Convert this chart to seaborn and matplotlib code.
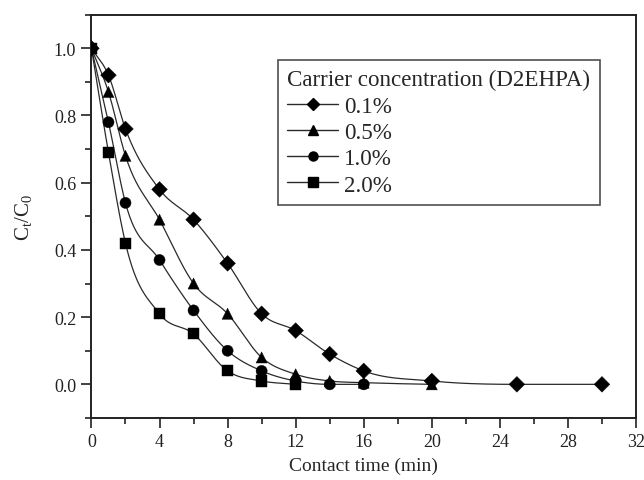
import numpy as np
import pandas as pd
import matplotlib
matplotlib.use("Agg")
import matplotlib.pyplot as plt
import seaborn as sns
from matplotlib.lines import Line2D
from matplotlib.ticker import MultipleLocator

# carrier concentration series
series_labels = ["0.1%", "0.5%", "1.0%", "2.0%"]
series_markers = ["D", "^", "o", "s"]

time_01 = [0, 1, 2, 4, 6, 8, 10, 12, 14, 16, 20, 25, 30]
ratio_01 = [1.0, 0.92, 0.76, 0.58, 0.49, 0.36, 0.21, 0.16, 0.09, 0.04, 0.01, 0.0, 0.0]

time_05 = [0, 1, 2, 4, 6, 8, 10, 12, 14, 16, 20]
ratio_05 = [1.0, 0.87, 0.68, 0.49, 0.30, 0.21, 0.08, 0.03, 0.01, 0.005, 0.0]

time_10 = [0, 1, 2, 4, 6, 8, 10, 12, 14, 16]
ratio_10 = [1.0, 0.78, 0.54, 0.37, 0.22, 0.10, 0.04, 0.01, 0.0, 0.0]

time_20 = [0, 1, 2, 4, 6, 8, 10, 12]
ratio_20 = [1.0, 0.69, 0.42, 0.21, 0.15, 0.04, 0.01, 0.0]

x_ticks = [0, 4, 8, 12, 16, 20, 24, 28, 32]
y_ticks = [0.0, 0.2, 0.4, 0.6, 0.8, 1.0]


def smooth_curve(x, y, n=400):
    """Monotone Hermite curve through the points, only used for the drawn line."""
    x = np.asarray(x, float)
    y = np.asarray(y, float)
    h = np.diff(x)
    d = np.diff(y) / h
    m = np.zeros_like(y)
    m[0], m[-1] = d[0], d[-1]
    for k in range(1, len(x) - 1):
        if d[k - 1] * d[k] <= 0:
            m[k] = 0.0
        else:
            # three-point slope, limited so the curve does not overshoot
            s = (h[k] * d[k - 1] + h[k - 1] * d[k]) / (h[k - 1] + h[k])
            lim = 3 * min(abs(d[k - 1]), abs(d[k]))
            m[k] = np.sign(s) * min(abs(s), lim)
    xs = np.linspace(x[0], x[-1], n)
    idx = np.clip(np.searchsorted(x, xs) - 1, 0, len(x) - 2)
    t = (xs - x[idx]) / h[idx]
    h00 = 2 * t**3 - 3 * t**2 + 1
    h10 = t**3 - 2 * t**2 + t
    h01 = -2 * t**3 + 3 * t**2
    h11 = t**3 - t**2
    ys = h00 * y[idx] + h10 * h[idx] * m[idx] + h01 * y[idx + 1] + h11 * h[idx] * m[idx + 1]
    return xs, ys


all_series = [(time_01, ratio_01), (time_05, ratio_05), (time_10, ratio_10), (time_20, ratio_20)]

points = pd.concat(
    [pd.DataFrame({"time": t, "ratio": r, "conc": lab}) for (t, r), lab in zip(all_series, series_labels)],
    ignore_index=True,
)
curves = []
for (t, r), lab in zip(all_series, series_labels):
    xs, ys = smooth_curve(t, r)
    curves.append(pd.DataFrame({"time": xs, "ratio": ys, "conc": lab}))
curves = pd.concat(curves, ignore_index=True)

sns.set_theme(style="ticks")
plt.rcParams["font.family"] = ["Liberation Serif", "DejaVu Serif"]
plt.rcParams["mathtext.fontset"] = "custom"
plt.rcParams["mathtext.rm"] = "Liberation Serif"
plt.rcParams["mathtext.it"] = "Liberation Serif"

fig = plt.figure(figsize=(6.44, 4.81), dpi=100)
ax = fig.add_axes([0.142, 0.129, 0.8456, 0.8384])

line_color = "#2a2a2a"
sns.lineplot(data=curves, x="time", y="ratio", units="conc", estimator=None,
             color=line_color, linewidth=0.9, ax=ax, legend=False, sort=False)
sns.scatterplot(data=points, x="time", y="ratio", style="conc", markers=dict(zip(series_labels, series_markers)),
                style_order=series_labels, color="black", s=64, edgecolor="black", linewidth=0.3,
                ax=ax, legend=False, zorder=3)

ax.set_xlim(0, 32)
ax.set_ylim(-0.1, 1.1)
ax.set_xticks(x_ticks)
ax.set_yticks(y_ticks)
ax.set_yticklabels([f"{v:.1f}" for v in y_ticks])
ax.xaxis.set_minor_locator(MultipleLocator(2))
ax.yaxis.set_minor_locator(MultipleLocator(0.1))
ax.tick_params(which="major", direction="out", length=7, width=1.2, labelsize=13, colors="#222222", pad=4)
ax.tick_params(which="minor", direction="out", length=4, width=1.2, colors="#222222")
for side in ax.spines.values():
    side.set_linewidth(1.4)
    side.set_color("#222222")
    side.set_visible(True)

ax.set_xlabel("Contact time (min)", fontsize=14, labelpad=5)
ax.set_ylabel(r"$\mathregular{C_t/C_0}$", fontsize=15, labelpad=14)

handles = [Line2D([], [], color=line_color, linewidth=1.0, marker=mk, markersize=6.5,
                  markerfacecolor="black", markeredgecolor="black")
           for mk in series_markers]
leg = ax.legend(handles, series_labels, title="Carrier concentration (D2EHPA)",
                loc="upper left", bbox_to_anchor=(0.343, 0.888), fontsize=16.6, title_fontsize=16.6,
                frameon=True, fancybox=False, edgecolor="#222222", handlelength=2.2,
                handletextpad=0.25, labelspacing=0.22, borderpad=0.4, borderaxespad=0)
leg._legend_box.align = "left"
leg._legend_box.sep = 4
leg.get_frame().set_linewidth(1.2)

fig.savefig("out.png", dpi=100)
